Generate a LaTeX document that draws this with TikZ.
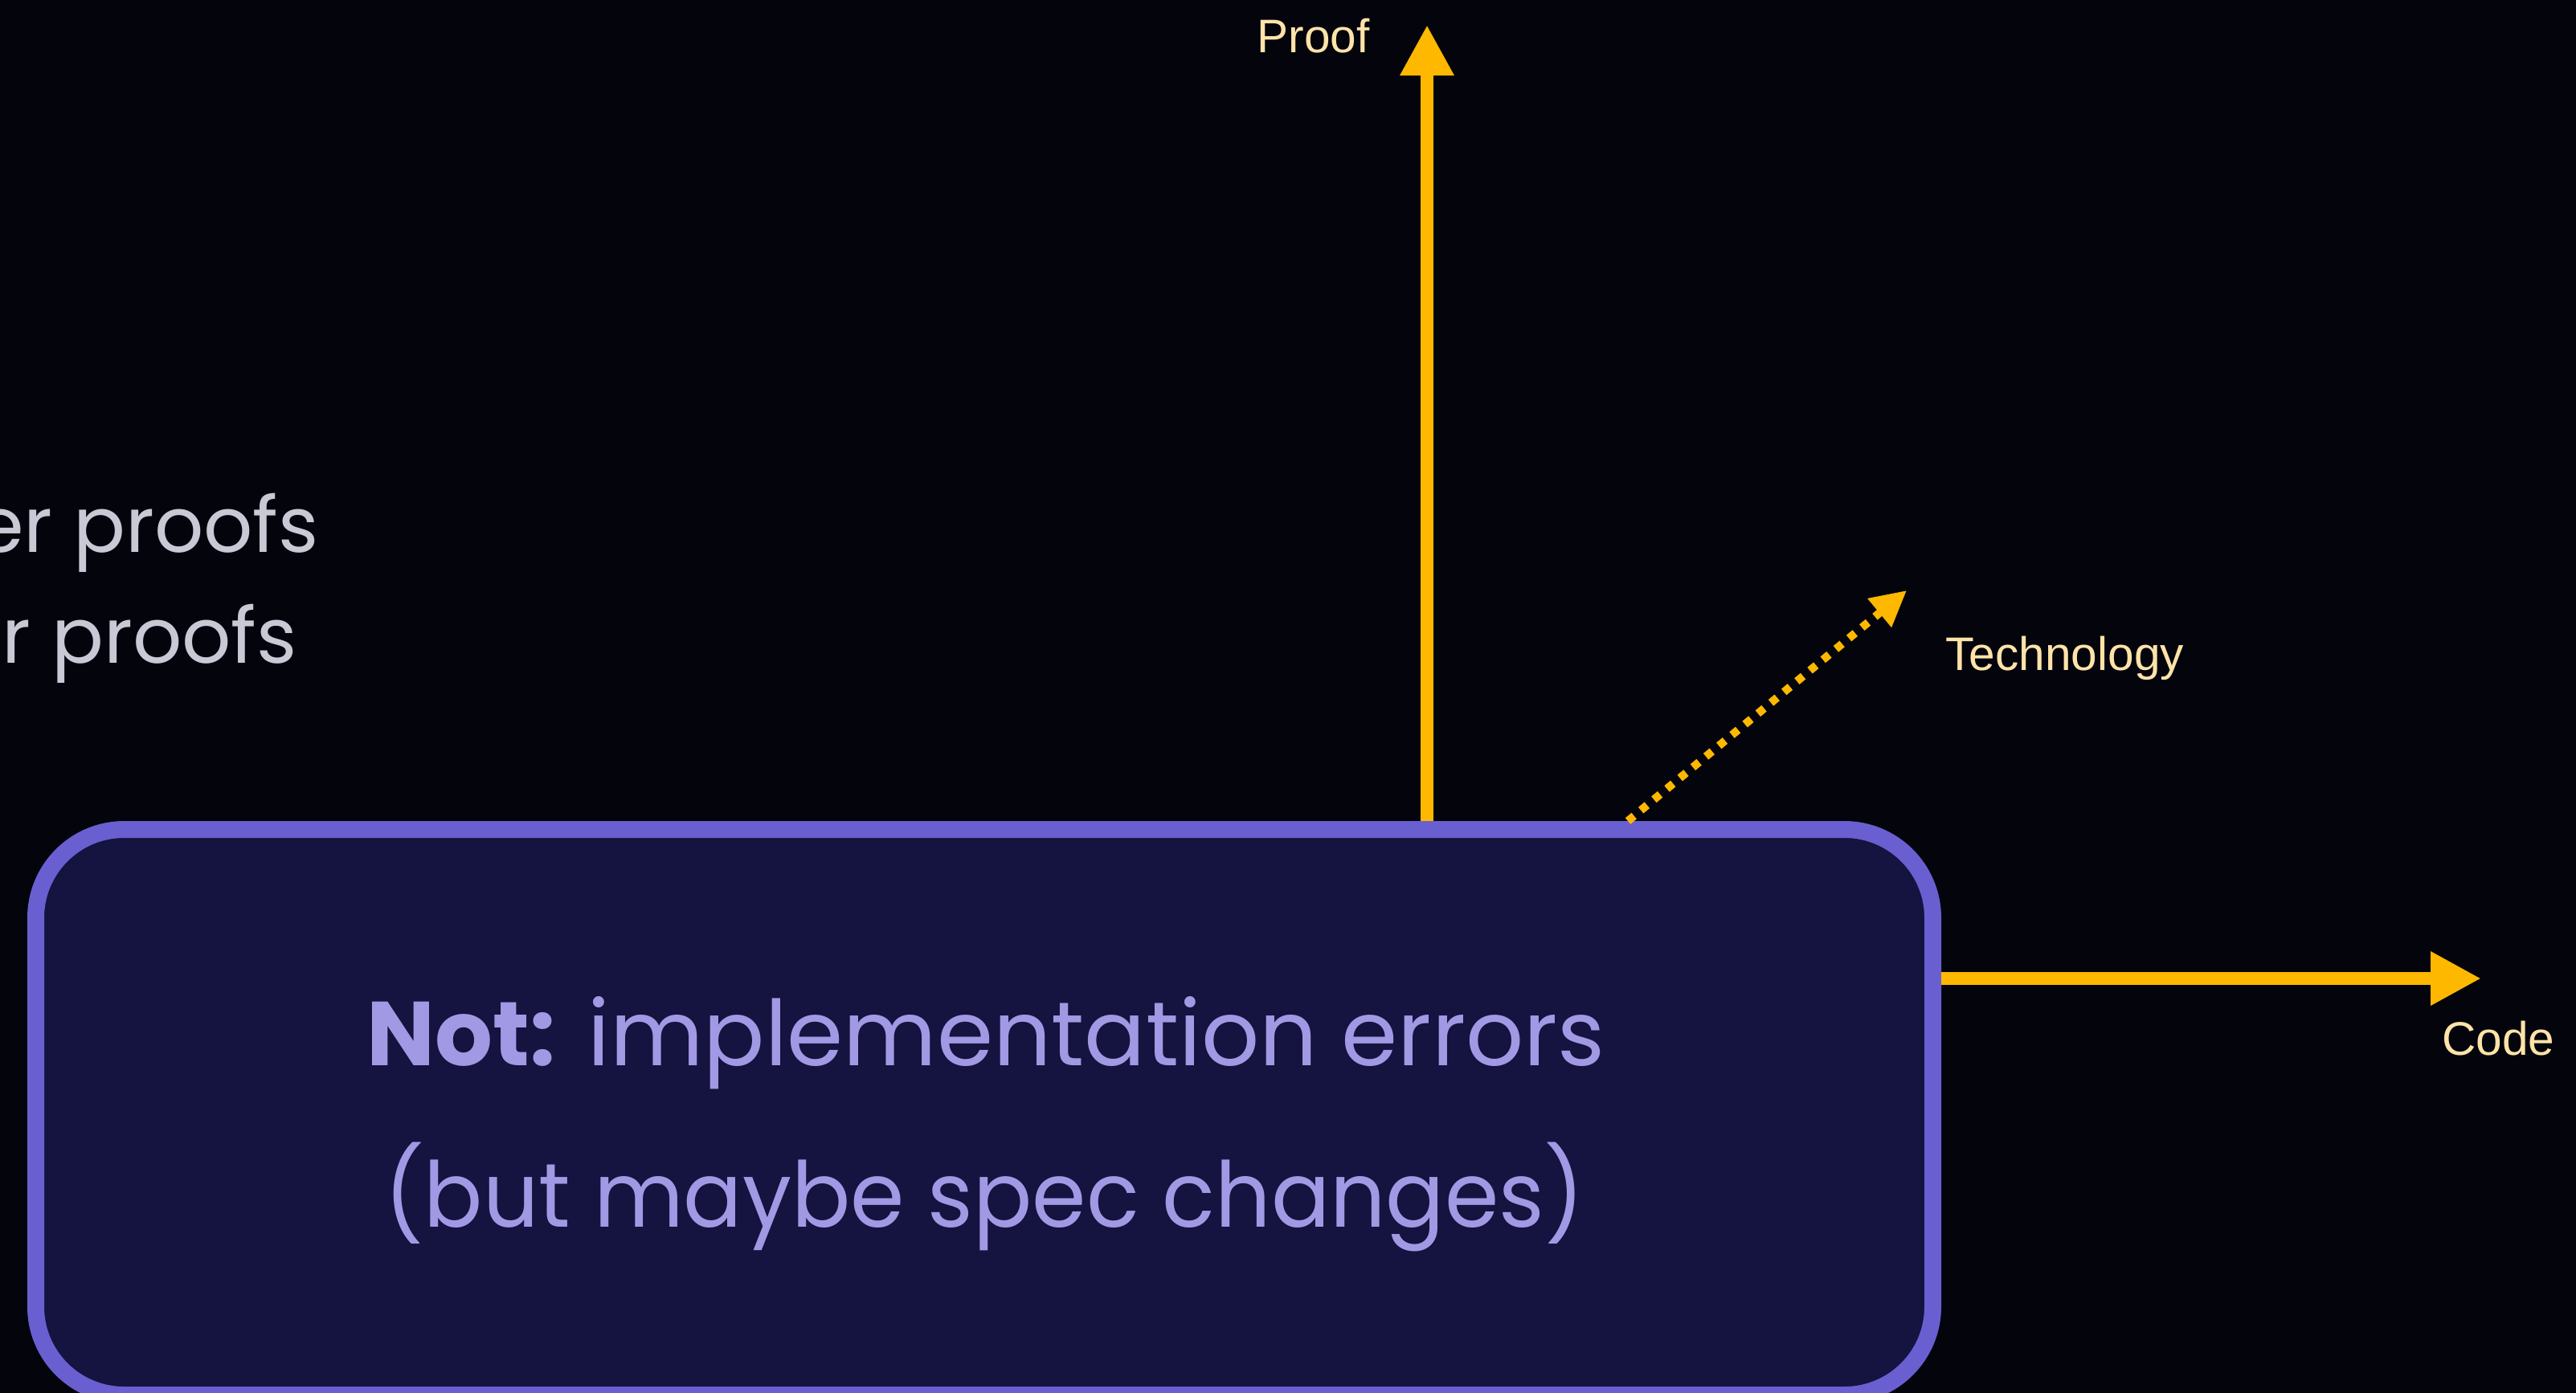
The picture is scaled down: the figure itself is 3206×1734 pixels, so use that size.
\documentclass[tikz,border=0pt]{standalone}
\usepackage{fontspec}
\usetikzlibrary{arrows.meta,calc}
\newfontfamily\montf{Poppins}
\newfontfamily\labf{Liberation Sans}
\definecolor{bgc}{HTML}{04040D}
\definecolor{boxfill}{HTML}{15133F}
\definecolor{boxline}{HTML}{6A5FD0}
\definecolor{boxtxt}{HTML}{A299E4}
\definecolor{axisc}{HTML}{FFB800}
\definecolor{labc}{HTML}{FFE3A8}
\definecolor{greyt}{HTML}{C9C9D6}
\tikzset{
  notebox/.style={draw=boxline, fill=boxfill, line width=10.5pt, rounded corners=55pt, inner sep=0pt},
  boxtext/.style={text=boxtxt, font=\montf\fontsize{56.5pt}{60pt}\selectfont, inner sep=0pt},
  sidetext/.style={text=greyt, font=\montf\fontsize{48pt}{52pt}\selectfont, inner sep=0pt},
  axislabel/.style={text=labc, font=\labf\fontsize{29.3pt}{32pt}\selectfont, inner sep=0pt},
  axisarrow/.style={draw=axisc, line width=8pt, -{Triangle[length=31.5pt,width=31.5pt]}},
  techarrow/.style={draw=axisc, line width=5pt, dash pattern=on 5pt off 5.5pt, -{Triangle[length=22pt,width=22pt]}}
}
\begin{document}
\begin{tikzpicture}[x=0.5pt,y=-0.5pt]
\useasboundingbox (0,0) rectangle (3206,1734);
\fill[bgc] (0,0) rectangle (3206,1734);
% left partial text
\node[sidetext, anchor=base east] (p1) at (397,687) {er proofs};
\node[sidetext, anchor=base east] (p2) at (370,825) {er proofs};
% box
\node[notebox, minimum width=1180.5pt, minimum height=352pt] (box) at (1225,1384.5) {};
\node[boxtext, anchor=base] (l1) at (1227,1326) {\textbf{Not:} implementation errors};
\node[boxtext, anchor=base] (l2) at (1225,1527) {\scalebox{0.96}[1]{(but maybe spec changes)}};
% tips
\coordinate (proofTip) at (1776,31);
\coordinate (codeTip) at (3088,1218);
\coordinate (techTip) at (2373,735);
\coordinate (techX) at (2026,0);
\draw[axisarrow] (box.north -| proofTip) -- (proofTip);
\draw[axisarrow] (box.east |- codeTip) -- (codeTip);
\draw[techarrow] (box.north -| techX) -- (techTip);
% labels
\node[axislabel, anchor=base west] (proof) at (1564,66) {Proof};
\node[axislabel, anchor=base west] (tech) at (2421,834) {Technology};
\node[axislabel, anchor=base west] (code) at (3039,1313) {Code};
\end{tikzpicture}
\end{document}
